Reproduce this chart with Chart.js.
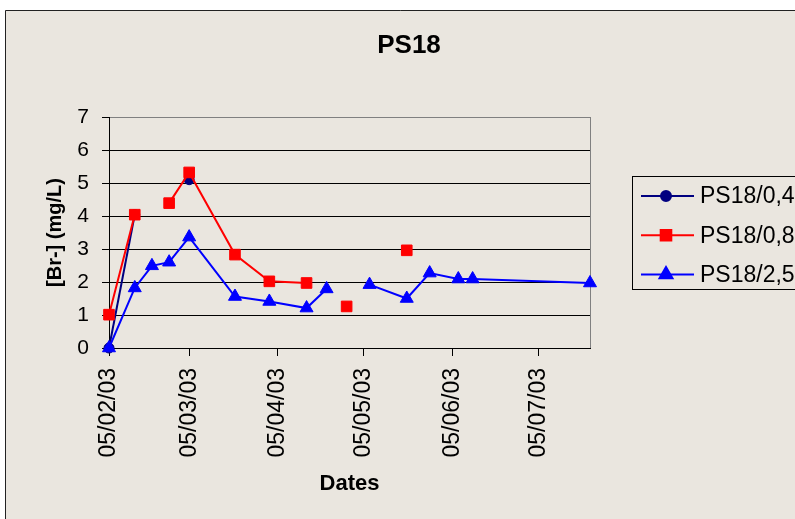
<!DOCTYPE html>
<html>
<head>
<meta charset="utf-8">
<script src="https://cdn.jsdelivr.net/npm/chart.js@4/dist/chart.umd.min.js"></script>
<style>
  html, body { margin: 0; padding: 0; background: #fff; }
  canvas { display: block; }
</style>
</head>
<body>
<canvas id="chart" width="795" height="519"></canvas>
<script>
// sampling dates (dd/mm/yy), shared by the three depths
const dates = ['05/02/03', '14/02/03', '20/02/03', '26/02/03', '05/03/03', '21/03/03', '02/04/03', '15/04/03',
               '22/04/03', '29/04/03', '07/05/03', '20/05/03', '28/05/03', '07/06/03', '12/06/03', '23/07/03'];
const seriesNames = ['PS18/0,4', 'PS18/0,8', 'PS18/2,5'];
const ps04 = [0, 4.04, null, null, 5.1, null, null, null, null, null, null, null, null, null, null, null];
const ps08 = [1.01, 4.04, null, 4.39, 5.32, 2.83, 2.02, 1.97, null, 1.26, null, 2.96, null, null, null, null];
const ps25 = [0, 1.82, 2.49, 2.6, 3.36, 1.56, 1.41, 1.21, 1.79, null, 1.92, 1.5, 2.27, 2.09, 2.09, 1.97];
const tickLabels = ['05/02/03', '05/03/03', '05/04/03', '05/05/03', '05/06/03', '05/07/03'];
const yTicks = [0, 1, 2, 3, 4, 5, 6, 7];
const chartTitle = 'PS18';

const FONT = "'Liberation Sans', Arial, sans-serif";
const BG = '#EAE6DF';

// dd/mm/yy -> days since the first sampling date
function dayOf(s) {
  const [d, m, y] = s.split('/').map(Number);
  return (Date.UTC(2000 + y, m - 1, d) - Date.UTC(2003, 1, 5)) / 86400000;
}
const xDays = dates.map(dayOf);
const tickDays = tickLabels.map(dayOf);

function toPoints(vals) {
  return vals.map((v, i) => ({ x: xDays[i], y: v }));
}

// Background panel, chart frame, title
const panelPlugin = {
  id: 'panel',
  beforeDraw(chart) {
    const ctx = chart.ctx;
    ctx.save();
    ctx.fillStyle = '#fff';
    ctx.fillRect(0, 0, chart.width, chart.height);
    ctx.fillStyle = BG;
    ctx.fillRect(5, 10, chart.width, chart.height);
    ctx.strokeStyle = '#222';
    ctx.lineWidth = 1;
    ctx.beginPath();
    ctx.moveTo(5.5, chart.height);
    ctx.lineTo(5.5, 10.5);
    ctx.lineTo(chart.width, 10.5);
    ctx.stroke();
    // title sits over the whole panel, not the plot
    ctx.fillStyle = '#000';
    ctx.font = 'bold 26px ' + FONT;
    ctx.textAlign = 'center';
    ctx.textBaseline = 'middle';
    ctx.fillText(chartTitle, 409, 46);
    ctx.restore();
  },
  beforeDatasetsDraw(chart) {
    const a = chart.chartArea;
    const ctx = chart.ctx;
    ctx.save();
    ctx.strokeStyle = '#808080';
    ctx.lineWidth = 1;
    ctx.beginPath();
    ctx.moveTo(Math.round(a.right) + 0.5, a.top);
    ctx.lineTo(Math.round(a.right) + 0.5, a.bottom);
    ctx.stroke();
    ctx.restore();
  }
};

// Excel-style legend box: line + marker + label
const legendPlugin = {
  id: 'boxLegend',
  afterDraw(chart) {
    const ctx = chart.ctx;
    ctx.save();
    ctx.strokeStyle = '#000';
    ctx.lineWidth = 1;
    ctx.strokeRect(632.5, 176.5, 220, 113);
    chart.data.datasets.forEach((ds, i) => {
      const y = 196 + i * 39.3;
      ctx.strokeStyle = ds.borderColor;
      ctx.lineWidth = 2;
      ctx.beginPath();
      ctx.moveTo(641, y);
      ctx.lineTo(694, y);
      ctx.stroke();
      ctx.fillStyle = ds.borderColor;
      Chart.helpers.drawPoint(ctx, {
        pointStyle: ds.pointStyle, radius: ds.pointRadius, rotation: 0, borderWidth: 1
      }, 666, y);
      ctx.fillStyle = '#000';
      ctx.font = '23px ' + FONT;
      ctx.textBaseline = 'middle';
      ctx.textAlign = 'left';
      ctx.fillText(ds.label, 700, y + 1);
    });
    ctx.restore();
  }
};

new Chart(document.getElementById('chart').getContext('2d'), {
  type: 'line',
  plugins: [panelPlugin, legendPlugin],
  data: {
    datasets: [
      {
        label: seriesNames[0], data: toPoints(ps04), order: 3,
        borderColor: '#000080', backgroundColor: '#000080',
        borderWidth: 2, pointStyle: 'circle', pointRadius: 5, pointBorderWidth: 1
      },
      {
        label: seriesNames[1], data: toPoints(ps08), order: 2,
        borderColor: '#FF0000', backgroundColor: '#FF0000',
        borderWidth: 2, pointStyle: 'rect', pointRadius: 7.5, pointBorderWidth: 1
      },
      {
        label: seriesNames[2], data: toPoints(ps25), order: 1,
        borderColor: '#0000FF', backgroundColor: '#0000FF',
        borderWidth: 2, pointStyle: 'triangle', pointRadius: 7.5, pointBorderWidth: 1
      }
    ]
  },
  options: {
    responsive: false,
    animation: false,
    clip: false,
    spanGaps: false,
    layout: { padding: { left: 5, right: 205, top: 117, bottom: 0 } },
    plugins: {
      legend: { display: false },
      tooltip: { enabled: false },
      title: { display: false }
    },
    scales: {
      x: {
        type: 'linear',
        min: 0,
        max: xDays[xDays.length - 1],
        afterFit: (s) => { s.height = 171; },
        afterBuildTicks: (s) => { s.ticks = tickDays.map(v => ({ value: v })); },
        ticks: {
          minRotation: 90,
          maxRotation: 90,
          padding: 12,
          color: '#000',
          font: { family: FONT, size: 23 },
          callback: (v) => tickLabels[tickDays.indexOf(v)]
        },
        grid: { drawOnChartArea: false, tickLength: 8, color: '#000' },
        border: { color: '#000', width: 1 },
        title: {
          display: true,
          text: 'Dates',
          color: '#000',
          font: { family: FONT, size: 22, weight: 'bold' },
          padding: { top: 0, bottom: 22 }
        }
      },
      y: {
        min: 0,
        max: 7,
        afterFit: (s) => { s.width = 104; },
        afterBuildTicks: (s) => { s.ticks = yTicks.map(v => ({ value: v })); },
        ticks: {
          padding: 13,
          color: '#000',
          font: { family: FONT, size: 21 }
        },
        grid: {
          color: (c) => c.tick && c.tick.value === 7 ? '#808080' : '#000',
          tickColor: '#000',
          tickLength: 7
        },
        border: { color: '#000', width: 1 },
        title: {
          display: true,
          text: '[Br-] (mg/L)',
          color: '#000',
          font: { family: FONT, size: 20, weight: 'bold' },
          padding: { top: 38, bottom: 0 }
        }
      }
    }
  }
});
</script>
</body>
</html>
